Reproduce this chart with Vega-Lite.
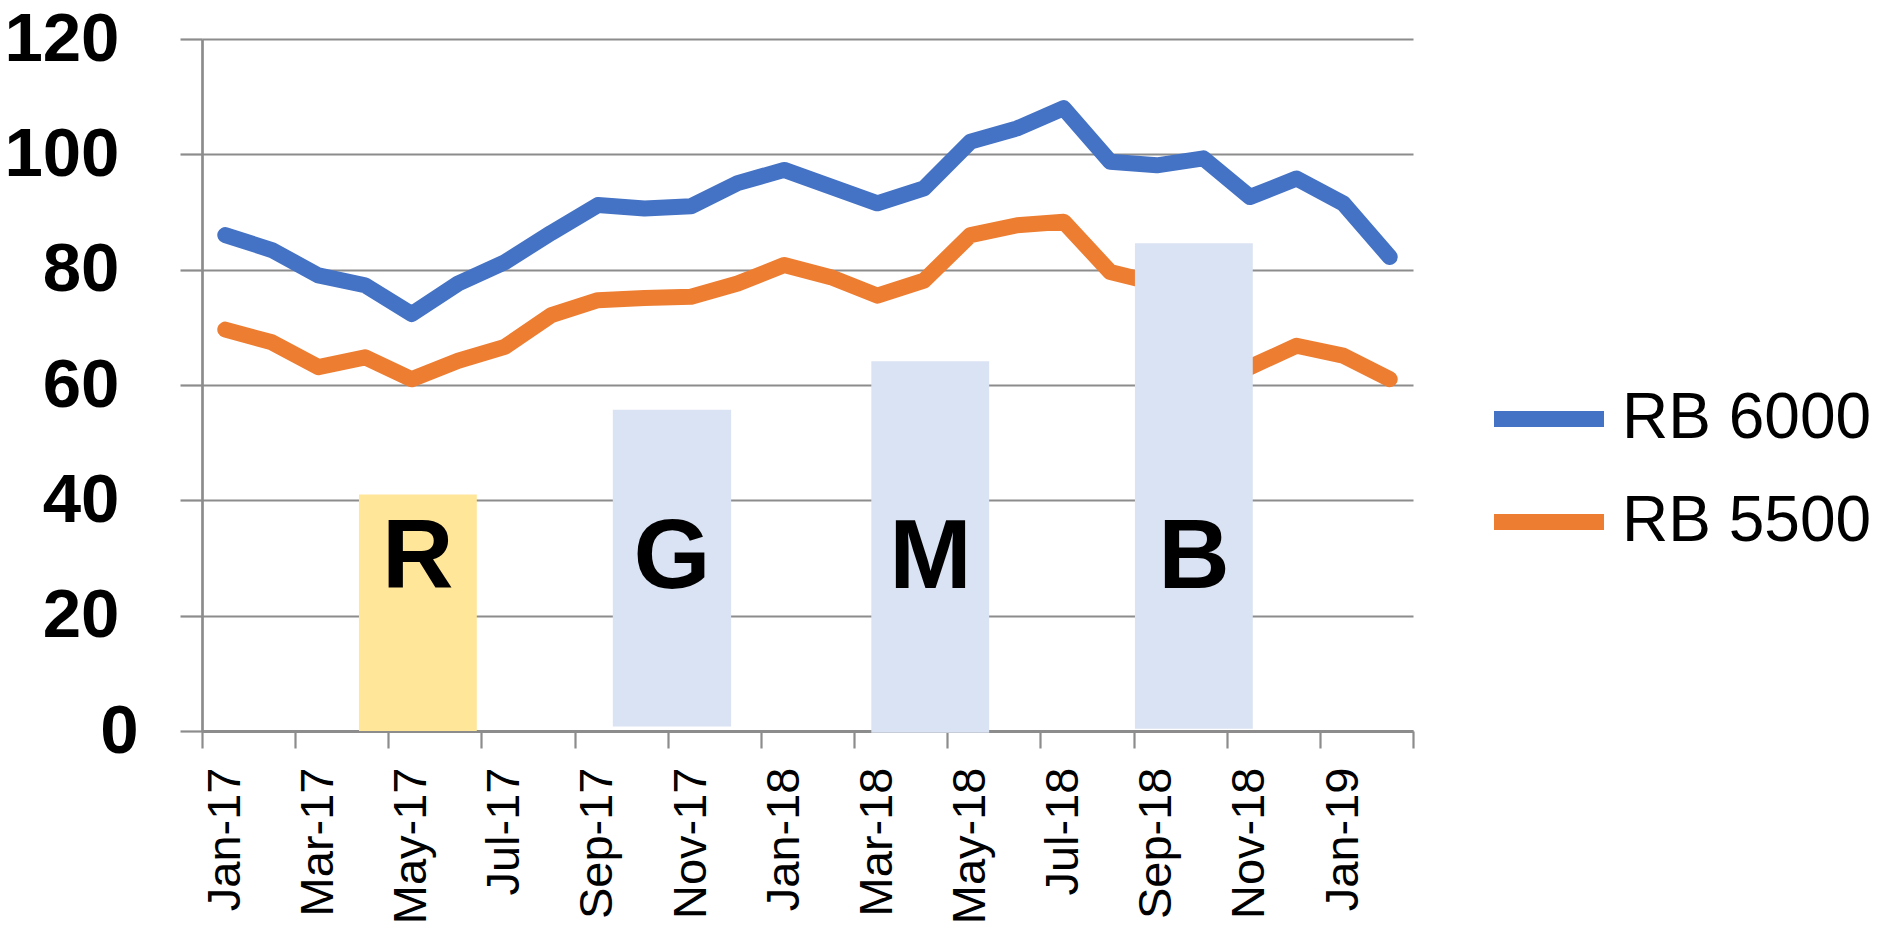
{
  "$schema": "https://vega.github.io/schema/vega-lite/v6.json",
  "width": 1211,
  "height": 692,
  "autosize": {"type": "none"},
  "padding": {"left": 202, "top": 39, "right": 477, "bottom": 202},
  "background": "white",
  "config": {"view": {"stroke": null}, "font": "Liberation Sans"},
  "datasets": {
    "prices": [
      {"month": "Jan-17", "i": 0, "RB 6000": 86.0, "RB 5500": 69.6},
      {"month": "Feb-17", "i": 1, "RB 6000": 83.4, "RB 5500": 67.4},
      {"month": "Mar-17", "i": 2, "RB 6000": 79.0, "RB 5500": 63.1},
      {"month": "Apr-17", "i": 3, "RB 6000": 77.3, "RB 5500": 64.8},
      {"month": "May-17", "i": 4, "RB 6000": 72.3, "RB 5500": 61.0},
      {"month": "Jun-17", "i": 5, "RB 6000": 77.6, "RB 5500": 64.2},
      {"month": "Jul-17", "i": 6, "RB 6000": 81.3, "RB 5500": 66.6},
      {"month": "Aug-17", "i": 7, "RB 6000": 86.4, "RB 5500": 72.1},
      {"month": "Sep-17", "i": 8, "RB 6000": 91.2, "RB 5500": 74.7},
      {"month": "Oct-17", "i": 9, "RB 6000": 90.6, "RB 5500": 75.1},
      {"month": "Nov-17", "i": 10, "RB 6000": 91.0, "RB 5500": 75.3},
      {"month": "Dec-17", "i": 11, "RB 6000": 95.0, "RB 5500": 77.6},
      {"month": "Jan-18", "i": 12, "RB 6000": 97.3, "RB 5500": 80.8},
      {"month": "Feb-18", "i": 13, "RB 6000": 94.4, "RB 5500": 78.7},
      {"month": "Mar-18", "i": 14, "RB 6000": 91.5, "RB 5500": 75.5},
      {"month": "Apr-18", "i": 15, "RB 6000": 94.1, "RB 5500": 78.1},
      {"month": "May-18", "i": 16, "RB 6000": 102.2, "RB 5500": 86.0},
      {"month": "Jun-18", "i": 17, "RB 6000": 104.5, "RB 5500": 87.7},
      {"month": "Jul-18", "i": 18, "RB 6000": 108.0, "RB 5500": 88.3},
      {"month": "Aug-18", "i": 19, "RB 6000": 98.7, "RB 5500": 79.6},
      {"month": "Sep-18", "i": 20, "RB 6000": 98.1, "RB 5500": 77.6},
      {"month": "Oct-18", "i": 21, "RB 6000": 99.3, "RB 5500": 70.0},
      {"month": "Nov-18", "i": 22, "RB 6000": 92.6, "RB 5500": 63.1},
      {"month": "Dec-18", "i": 23, "RB 6000": 95.8, "RB 5500": 66.8},
      {"month": "Jan-19", "i": 24, "RB 6000": 91.5, "RB 5500": 65.1},
      {"month": "Feb-19", "i": 25, "RB 6000": 82.2, "RB 5500": 61.0}
    ],
    "bars": [
      {"label": "R", "from": 2.87, "to": 5.40, "mid": 4.13, "low": 0, "high": 41.0},
      {"label": "G", "from": 8.32, "to": 10.86, "mid": 9.59, "low": 0.8, "high": 55.7},
      {"label": "M", "from": 13.87, "to": 16.40, "mid": 15.14, "low": -0.3, "high": 64.1},
      {"label": "B", "from": 19.53, "to": 22.06, "mid": 20.8, "low": 0.4, "high": 84.6}
    ]
  },
  "layer": [
    {
      "data": {"name": "prices"},
      "transform": [{"fold": ["RB 6000", "RB 5500"], "as": ["series", "value"]}],
      "mark": {"type": "line", "strokeWidth": 16, "strokeCap": "round", "strokeJoin": "round"},
      "encoding": {
        "x": {
          "field": "i", "type": "quantitative",
          "scale": {"domain": [-0.5, 25.5], "nice": false, "zero": false},
          "axis": {
            "orient": "bottom", "title": null,
            "values": [0, 2, 4, 6, 8, 10, 12, 14, 16, 18, 20, 22, 24],
            "labelExpr": "['Jan','Mar','May','Jul','Sep','Nov'][(datum.value % 12) / 2] + '-' + (17 + floor(datum.value / 12))",
            "ticks": false, "domain": false, "grid": false,
            "labelAngle": -90, "labelFont": "Liberation Sans", "labelFontSize": 47,
            "labelColor": "black", "labelPadding": 36
          }
        },
        "y": {
          "field": "value", "type": "quantitative",
          "scale": {"domain": [0, 120], "nice": false},
          "axis": {
            "title": null, "values": [0, 20, 40, 60, 80, 100, 120],
            "grid": true, "gridColor": "#8C8C8C", "gridWidth": 2.2, "gridOpacity": 1,
            "domain": true, "domainColor": "#8C8C8C", "domainWidth": 2.7,
            "ticks": true, "tickColor": "#8C8C8C", "tickWidth": 2.2, "tickSize": 22,
            "labelFont": "Liberation Sans", "labelFontWeight": "bold", "labelFontSize": 69,
            "labelColor": "black", "labelPadding": 61,
            "labelAlign": {"condition": {"test": "datum.value === 0", "value": "center"}, "value": "right"}
          }
        },
        "color": {
          "field": "series", "type": "nominal",
          "scale": {"domain": ["RB 6000", "RB 5500"], "range": ["#4472C4", "#ED7D31"]},
          "legend": {
            "title": null, "orient": "none", "legendX": 1284, "legendY": 317,
            "labelFont": "Liberation Sans", "labelFontSize": 64, "labelColor": "black",
            "labelLimit": 600,
            "symbolType": "stroke", "symbolStrokeWidth": 16, "symbolSize": 12100,
            "labelOffset": 10, "rowPadding": 8, "padding": 0
          }
        }
      }
    },
    {
      "data": {"name": "bars"},
      "mark": {"type": "rect"},
      "encoding": {
        "x": {
          "field": "from", "type": "quantitative",
          "axis": {
            "orient": "bottom", "title": null,
            "values": [-0.5, 1.5, 3.5, 5.5, 7.5, 9.5, 11.5, 13.5, 15.5, 17.5, 19.5, 21.5, 23.5, 25.5],
            "labels": false, "grid": false, "ticks": true, "tickSize": 17,
            "tickColor": "#8C8C8C", "tickWidth": 2.2,
            "domain": true, "domainColor": "#8C8C8C", "domainWidth": 3.2
          }
        },
        "x2": {"field": "to"},
        "y": {"field": "low", "type": "quantitative", "axis": {"title": null}},
        "y2": {"field": "high"},
        "fill": {"condition": {"test": "datum.label === 'R'", "value": "#FFE699"}, "value": "#DAE3F3"}
      }
    },
    {
      "data": {"name": "bars"},
      "mark": {"type": "text", "font": "Liberation Sans", "fontWeight": "bold", "fontSize": 99, "baseline": "middle", "align": "center", "color": "black"},
      "encoding": {
        "x": {"field": "mid", "type": "quantitative", "axis": null},
        "y": {"datum": 30, "type": "quantitative", "axis": {"title": null}},
        "text": {"field": "label"}
      }
    }
  ],
  "resolve": {"axis": {"x": "independent"}}
}
